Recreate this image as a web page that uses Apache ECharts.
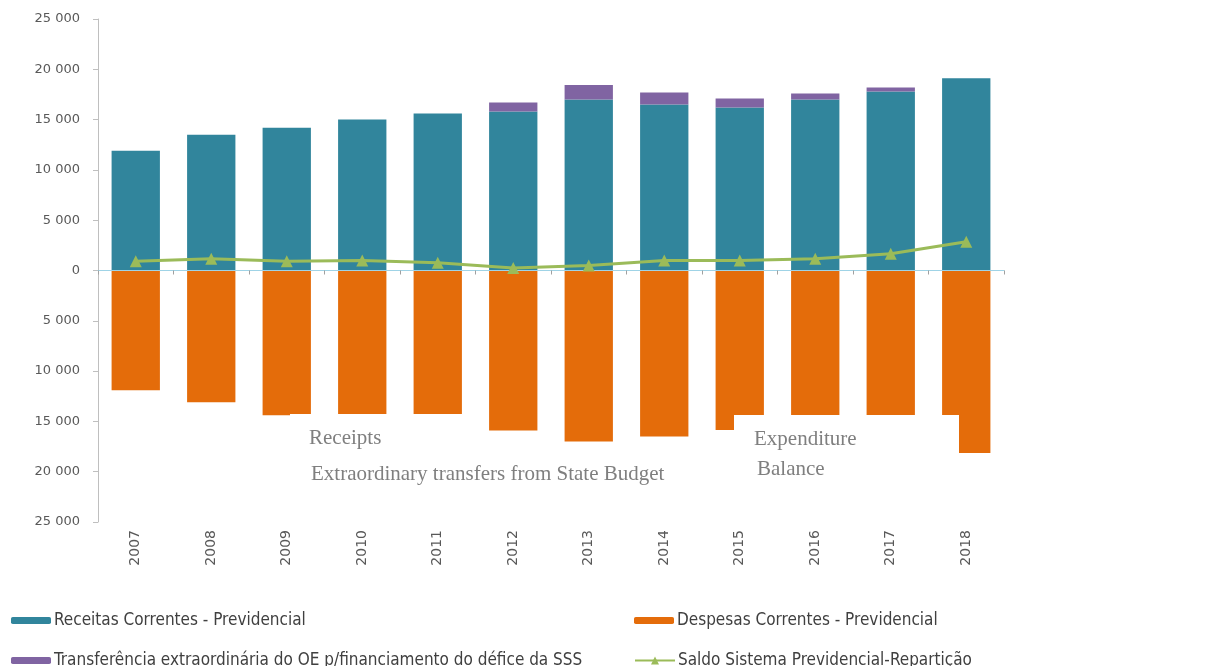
<!DOCTYPE html>
<html>
<head>
<meta charset="utf-8">
<script src="https://cdn.jsdelivr.net/npm/echarts@6/dist/echarts.min.js"></script>
<style>
  html, body { margin: 0; padding: 0; background: #fff; }
  #chart { width: 1222px; height: 666px; }
</style>
</head>
<body>
<div id="chart"></div>
<script>
// years on the x axis
const years = ["2007", "2008", "2009", "2010", "2011", "2012", "2013", "2014", "2015", "2016", "2017", "2018"];
// receitas correntes (positive side)
const receitas = [11900, 13500, 14200, 15000, 15600, 15800, 17000, 16500, 16200, 17000, 17800, 19100];
// transferência extraordinária do OE, stacked on top of receitas
const transferencia = [0, 0, 0, 0, 0, 900, 1450, 1200, 900, 600, 400, 0];
// despesas correntes (drawn below zero)
const despesas = [11900, 13100, 14400, 14500, 14800, 15900, 17000, 16500, 15850, 16300, 16600, 18150];
// saldo sistema previdencial
const saldo = [930, 1160, 930, 1000, 760, 260, 500, 1000, 1000, 1160, 1660, 2850];

const fmt = (v) => {
  const a = Math.abs(v);
  if (a === 0) return "0";
  return String(a).replace(/\B(?=(\d{3})+(?!\d))/g, " ");
};

const legendFont = "'Liberation Sans Narrow', 'DejaVu Sans Condensed', 'Liberation Sans', sans-serif";
const axisFont = "'DejaVu Sans', 'Liberation Sans', sans-serif";
const serif = "'Liberation Serif', 'DejaVu Serif', serif";
const legendText = { fontFamily: legendFont, fontSize: 17, color: "#404040", padding: [0, 0, 0, -2] };

const chart = echarts.init(document.getElementById("chart"));
chart.setOption({
  animation: false,
  backgroundColor: "#fff",
  grid: { left: 98, right: 218, top: 19, bottom: 144 },
  legend: [
    { left: 6, top: 607, itemWidth: 40, itemHeight: 7, textStyle: legendText,
      data: ["Receitas Correntes - Previdencial"] },
    { left: 629, top: 607, itemWidth: 40, itemHeight: 7, textStyle: legendText,
      data: ["Despesas Correntes - Previdencial"] },
    { left: 6, top: 647, itemWidth: 40, itemHeight: 7, textStyle: legendText,
      data: ["Transferência extraordinária do OE p/financiamento do défice da SSS"] },
    { left: 629, top: 647, itemWidth: 40, itemHeight: 10, textStyle: legendText,
      data: ["Saldo Sistema Previdencial-Repartição"] }
  ],
  xAxis: [
    {
      type: "category",
      data: years,
      axisLine: { onZero: true, lineStyle: { color: "#9fd3e6", width: 1 } },
      axisTick: { show: true, length: 4, lineStyle: { color: "#a0a0a0" } },
      axisLabel: { show: false },
      z: 3
    },
    {
      type: "category",
      data: years,
      position: "bottom",
      axisLine: { show: false, onZero: false },
      axisTick: { show: false },
      axisLabel: { rotate: 90, margin: 8, color: "#595959", fontSize: 14, fontFamily: axisFont }
    }
  ],
  yAxis: {
    type: "value",
    min: -25000, max: 25000, interval: 5000,
    splitLine: { show: false },
    axisLine: { show: true, lineStyle: { color: "#bfbfbf" } },
    axisTick: { show: true, length: 5, lineStyle: { color: "#bfbfbf" } },
    axisLabel: { formatter: fmt, margin: 18, color: "#595959", fontSize: 13, fontFamily: axisFont }
  },
  series: [
    {
      name: "Receitas Correntes - Previdencial",
      type: "bar", stack: "t", barWidth: "64%",
      itemStyle: { color: "#31859c" },
      data: receitas
    },
    {
      name: "Transferência extraordinária do OE p/financiamento do défice da SSS",
      type: "bar", stack: "t",
      itemStyle: { color: "#8064a2" },
      data: transferencia
    },
    {
      name: "Despesas Correntes - Previdencial",
      type: "bar", stack: "t",
      itemStyle: { color: "#e46c0a" },
      data: despesas.map((v) => -v)
    },
    {
      name: "Saldo Sistema Previdencial-Repartição",
      type: "line", z: 5,
      symbol: "triangle", symbolSize: 12,
      lineStyle: { color: "#9bbb59", width: 3 },
      itemStyle: { color: "#9bbb59" },
      data: saldo
    }
  ],
  graphic: [
    { type: "rect", left: 290, top: 414, shape: { width: 198, height: 50 }, style: { fill: "#fff" }, z: 100 },
    { type: "rect", left: 734, top: 415, shape: { width: 225, height: 70 }, style: { fill: "#fff" }, z: 100 },
    { type: "text", left: 309, top: 428, z: 101,
      style: { text: "Receipts", font: "21px " + serif, fill: "#7f7f7f" } },
    { type: "text", left: 311, top: 464, z: 101,
      style: { text: "Extraordinary transfers from State Budget", font: "21px " + serif, fill: "#7f7f7f" } },
    { type: "text", left: 754, top: 429, z: 101,
      style: { text: "Expenditure", font: "21px " + serif, fill: "#7f7f7f" } },
    { type: "text", left: 757, top: 459, z: 101,
      style: { text: "Balance", font: "21px " + serif, fill: "#7f7f7f" } }
  ]
});
</script>
</body>
</html>
